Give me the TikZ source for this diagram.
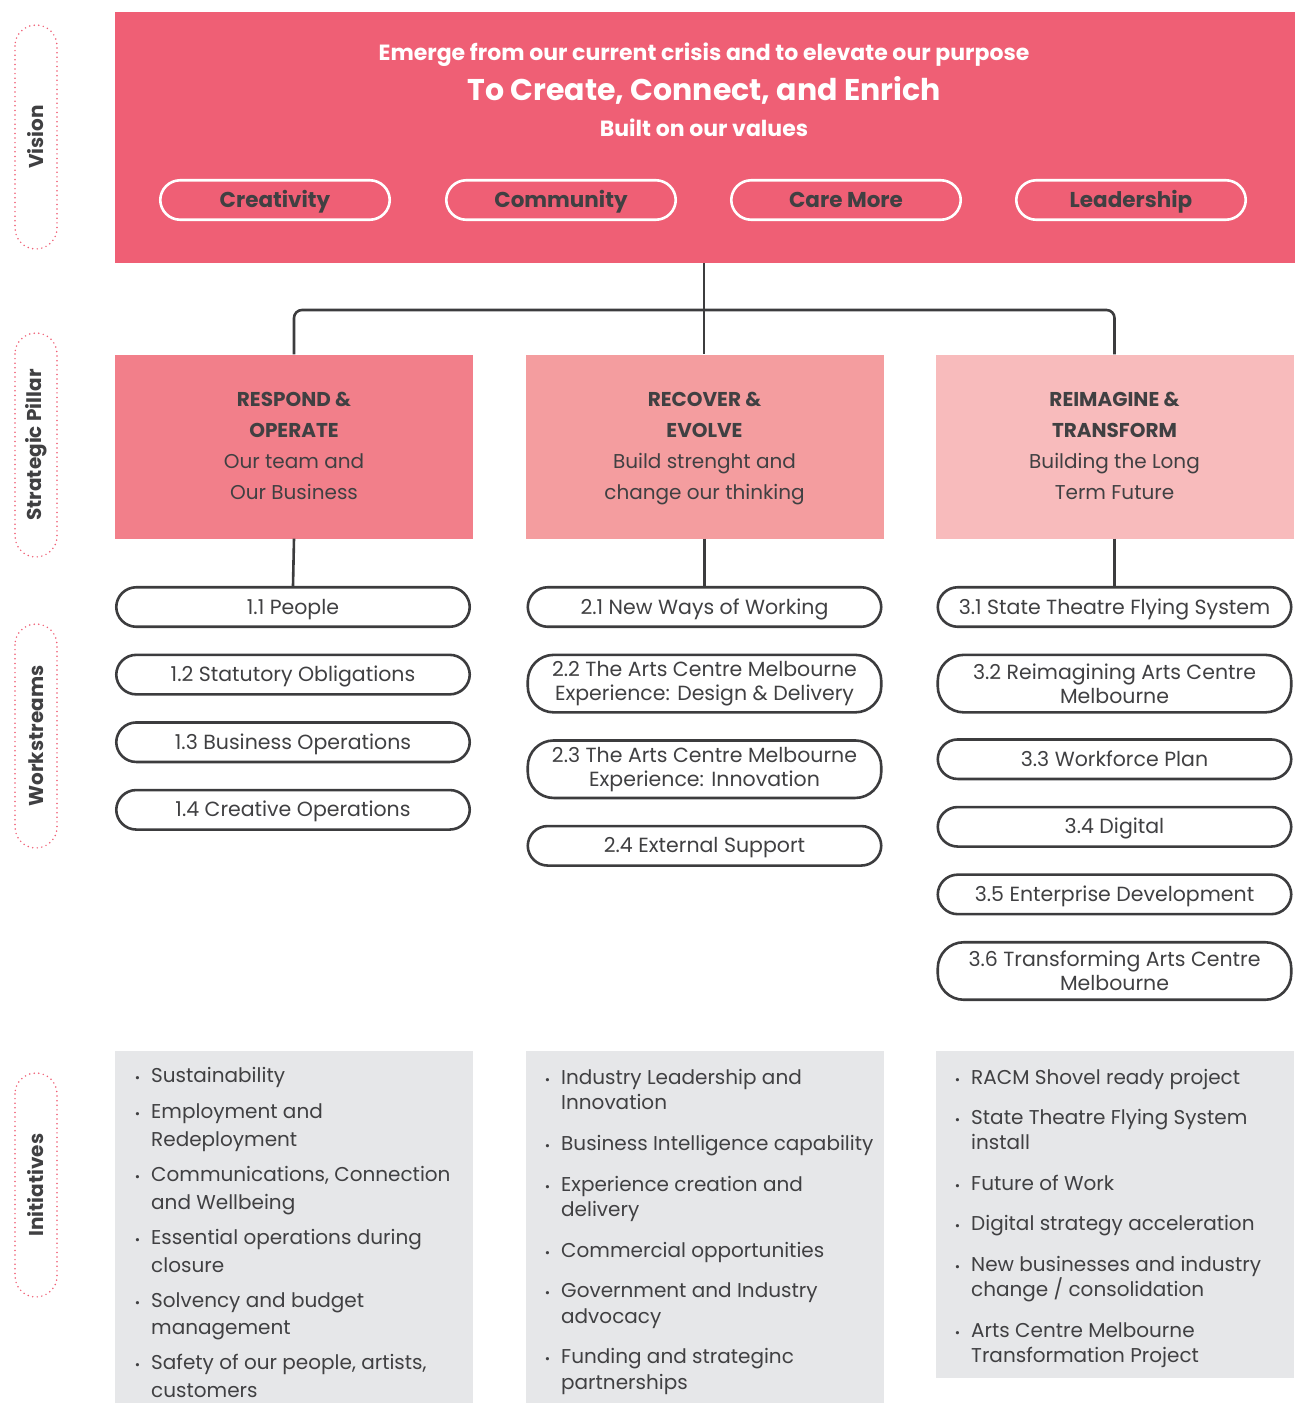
\documentclass[tikz,border=0pt]{standalone}
\usepackage{fontspec}
\setmainfont{Poppins}
\usepackage{tikz}
\usetikzlibrary{positioning}
\definecolor{visionpink}{HTML}{EF5F75}
\definecolor{pillarone}{HTML}{F27F8A}
\definecolor{pillartwo}{HTML}{F49D9F}
\definecolor{pillarthree}{HTML}{F8BBBC}
\definecolor{inigray}{HTML}{E6E7E9}
\definecolor{darktext}{HTML}{404042}
\definecolor{linegray}{HTML}{3C3C3E}
\newcommand{\inibul}{\llap{{\fontsize{13}{13}\selectfont\textbullet}\hspace{11pt}}}

\begin{document}
\begin{tikzpicture}[x=1pt, y=-1pt,
  every node/.style = {inner sep=0pt, text=darktext},
  sidelabel/.style = {draw=visionpink, line width=1.7pt, line cap=round,
    dash pattern=on 0pt off 4.6pt, rounded corners=21pt, rotate=90,
    minimum width=224pt, minimum height=42pt,
    font=\fontsize{20}{24}\selectfont\bfseries},
  valpill/.style = {draw=white, line width=2.6pt, rounded corners=20pt,
    minimum width=229.5pt, minimum height=39.5pt, text height=17pt, text depth=2pt,
    font=\fontsize{21.5}{26}\selectfont\bfseries},
  pillar/.style = {minimum width=358pt, minimum height=184pt, align=center,
    font=\fontsize{20}{31}\selectfont},
  ws/.style = {draw=linegray, line width=2.6pt, fill=white, rounded corners=20pt,
    minimum width=353.5pt, minimum height=39.5pt, align=center,
    font=\fontsize{20.5}{24}\selectfont},
  wsone/.style = {ws, text height=15pt, text depth=1pt},
  wstwo/.style = {ws, minimum height=57.5pt, rounded corners=26pt},
  inibox/.style = {fill=inigray, minimum width=358pt, anchor=north west},
  inilist/.style = {align=left, anchor=north west, font=\fontsize{20}{28}\selectfont},
  conn/.style = {draw=linegray, line width=2.6pt}]

  \useasboundingbox (0,0) rectangle (1300,1403);

  % side labels
  \node[sidelabel] (lvision) at (36,137) {Vision};
  \node[sidelabel] (lpillar) at (36,445) {Strategic Pillar};
  \node[sidelabel] (lstream) at (36,736) {Workstreams};
  \node[sidelabel] (linit) at (36,1185) {Initiatives};

  % vision
  \node[fill=visionpink, minimum width=1180pt, minimum height=251pt] (vision) at (705,137.5) {};
  \node[text=white, font=\fontsize{22}{24}\selectfont\bfseries] (emerge) at (704,55)
    {Emerge from our current crisis and to elevate our purpose};
  \node[text=white, font=\fontsize{30}{36}\selectfont\bfseries] (purpose) at (704,90.5)
    {To Create, Connect, and Enrich};
  \node[text=white, font=\fontsize{22}{24}\selectfont\bfseries] (built) at (704,127.5)
    {Built on our values};
  \node[valpill] (creativity) at (275,200) {Creativity};
  \node[valpill] (community) at (561,200) {Community};
  \node[valpill] (caremore) at (846,200) {Care More};
  \node[valpill] (leadership) at (1131,200) {Leadership};

  % strategic pillars
  \node[pillar, fill=pillarone] (respond) at (294,446.5)
    {\textbf{RESPOND \&}\strut\\\textbf{OPERATE}\\Our team and\\Our Business\strut};
  \node[pillar, fill=pillartwo] (recover) at (704.5,446.5)
    {\textbf{RECOVER \&}\strut\\\textbf{EVOLVE}\\Build strenght and\\change our thinking\strut};
  \node[pillar, fill=pillarthree] (reimagine) at (1114.5,446.5)
    {\textbf{REIMAGINE \&}\strut\\\textbf{TRANSFORM}\\Building the Long\\Term Future\strut};

  \coordinate (bus) at (704,310);
  \draw[conn] (bus |- vision.south) -- (bus |- recover.north);
  \draw[conn, rounded corners=8pt] (respond.north) |- (bus) -| (reimagine.north);

  % workstreams
  \node[wsone] (w11) at (293,607) {1.1 People};
  \node[wsone, below=25.5pt of w11] (w12) {1.2 Statutory Obligations};
  \node[wsone, below=25.5pt of w12] (w13) {1.3 Business Operations};
  \node[wsone, below=25.5pt of w13] (w14) {1.4 Creative Operations};

  \node[wsone] (w21) at (704.5,607) {2.1 New Ways of Working};
  \node[wstwo, below=25.5pt of w21] (w22) {2.2 The Arts Centre Melbourne\\Experience: Design \& Delivery};
  \node[wstwo, below=25.5pt of w22] (w23) {2.3 The Arts Centre Melbourne\\Experience: Innovation};
  \node[wsone, below=25.5pt of w23] (w24) {2.4 External Support};

  \node[wsone] (w31) at (1114.5,607) {3.1 State Theatre Flying System};
  \node[wstwo, below=25.5pt of w31] (w32) {3.2 Reimagining Arts Centre\\Melbourne};
  \node[wsone, below=24.5pt of w32] (w33) {3.3 Workforce Plan};
  \node[wsone, below=25.5pt of w33] (w34) {3.4 Digital};
  \node[wsone, below=25.5pt of w34] (w35) {3.5 Enterprise Development};
  \node[wstwo, below=25.5pt of w35] (w36) {3.6 Transforming Arts Centre\\Melbourne};

  \draw[conn] (respond.south) -- (w11.north);
  \draw[conn] (recover.south) -- (w21.north);
  \draw[conn] (reimagine.south) -- (w31.north);

  % initiatives
  \node[inibox, minimum height=352pt] (ini1) at (115,1051) {};
  \node[inibox, minimum height=352pt] (ini2) at (525.5,1051) {};
  \node[inibox, minimum height=327pt] (ini3) at (935.5,1051) {};

  \node[inilist, font=\fontsize{20}{27.6}\selectfont] (list1) at (151,1067) {%
    \inibul Sustainability\\[8.5pt]
    \inibul Employment and\\Redeployment\\[8pt]
    \inibul Communications, Connection\\and Wellbeing\\[7.5pt]
    \inibul Essential operations during\\closure\\[7.5pt]
    \inibul Solvency and budget\\management\\[7.5pt]
    \inibul Safety of our people, artists,\\customers};
  \node[inilist, font=\fontsize{20}{25.5}\selectfont] (list2) at (561,1069) {%
    \inibul Industry Leadership and\\Innovation\\[15.5pt]
    \inibul Business Intelligence capability\\[15pt]
    \inibul Experience creation and\\delivery\\[15pt]
    \inibul Commercial opportunities\\[15pt]
    \inibul Government and Industry\\advocacy\\[15pt]
    \inibul Funding and strateginc\\partnerships};
  \node[inilist, font=\fontsize{20}{25.5}\selectfont] (list3) at (971,1069) {%
    \inibul RACM Shovel ready project\\[14.5pt]
    \inibul State Theatre Flying System\\install\\[15pt]
    \inibul Future of Work\\[15pt]
    \inibul Digital strategy acceleration\\[15pt]
    \inibul New businesses and industry\\change / consolidation\\[15pt]
    \inibul Arts Centre Melbourne\\Transformation Project};
\end{tikzpicture}
\end{document}
